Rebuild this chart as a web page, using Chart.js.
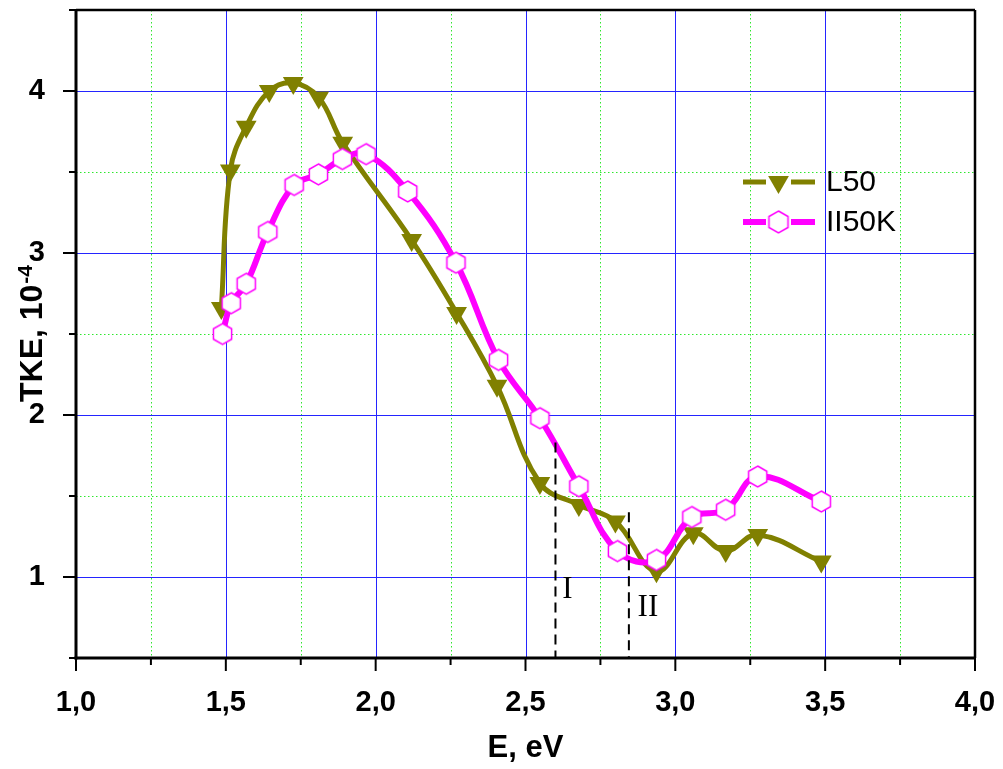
<!DOCTYPE html>
<html>
<head>
<meta charset="utf-8">
<script src="https://cdn.jsdelivr.net/npm/chart.js@4.4.1/dist/chart.umd.min.js"></script>
<style>
  html, body { margin: 0; padding: 0; background: #fff; }
</style>
</head>
<body>
<canvas id="myChart" width="1003" height="769"></canvas>
<script>
// L50
const eL50   = [1.485, 1.515, 1.568, 1.645, 1.725, 1.81, 1.89, 2.12, 2.27, 2.405, 2.548, 2.678, 2.80, 2.937, 3.06, 3.168, 3.275, 3.487];
const tkeL50 = [2.66, 3.51, 3.78, 4.00, 4.05, 3.96, 3.68, 3.08, 2.63, 2.18, 1.58, 1.445, 1.343, 1.035, 1.27, 1.16, 1.26, 1.095];
// II50K
const eII50K   = [1.489, 1.518, 1.568, 1.64, 1.728, 1.809, 1.889, 1.968, 2.107, 2.268, 2.41, 2.548, 2.678, 2.807, 2.937, 3.055, 3.168, 3.275, 3.487];
const tkeII50K = [2.50, 2.69, 2.81, 3.13, 3.42, 3.485, 3.58, 3.61, 3.38, 2.94, 2.34, 1.98, 1.56, 1.16, 1.105, 1.37, 1.415, 1.62, 1.466];

// axes
const xMajor = [1, 1.5, 2, 2.5, 3, 3.5, 4];
const xMinor = [1.25, 1.75, 2.25, 2.75, 3.25, 3.75];
const yMajor = [1, 2, 3, 4];
const yMinor = [0.5, 1.5, 2.5, 3.5, 4.5];
const xTickLabels = ['1,0', '1,5', '2,0', '2,5', '3,0', '3,5', '4,0'];
const yTickLabels = ['1', '2', '3', '4'];

// dashed markers I / II
const markE   = [2.6, 2.845];
const markTop = [1.83, 1.40];
const markLbl = ['I', 'II'];

const SANS = "'Liberation Sans', Arial, sans-serif";
const SERIF = "'Liberation Serif', 'Times New Roman', serif";
const OLIVE = '#808000';
const MAGENTA = '#ff00ff';

function hexagon(r, color) {
  const c = document.createElement('canvas');
  const s = Math.ceil(2 * r + 4);
  c.width = s; c.height = s;
  const g = c.getContext('2d');
  g.beginPath();
  for (let i = 0; i < 6; i++) {
    const a = -Math.PI / 2 + i * Math.PI / 3;
    const px = s / 2 + r * Math.cos(a), py = s / 2 + r * Math.sin(a);
    if (i) g.lineTo(px, py); else g.moveTo(px, py);
  }
  g.closePath();
  g.fillStyle = '#fff'; g.fill();
  g.lineWidth = 1.5; g.strokeStyle = color; g.stroke();
  return c;
}
const hexImg = hexagon(10.5, MAGENTA);
const hexLegend = hexagon(11, MAGENTA);

function seg(ctx, x1, y1, x2, y2) {
  ctx.beginPath(); ctx.moveTo(x1, y1); ctx.lineTo(x2, y2); ctx.stroke();
}

// no automatic label padding: the plot box is fixed
function noPad(s) {
  s.paddingTop = 0; s.paddingBottom = 0; s.paddingLeft = 0; s.paddingRight = 0;
}

const decor = {
  id: 'decor',
  beforeDatasetsDraw(chart) {
    const { ctx, chartArea: a, scales: { x, y } } = chart;
    ctx.save();
    // minor grid - green dotted
    ctx.strokeStyle = '#2ee82e'; ctx.lineWidth = 1; ctx.setLineDash([1.5, 2.5]);
    xMinor.forEach(v => { const p = Math.round(x.getPixelForValue(v)) + 0.5; seg(ctx, p, a.top, p, a.bottom); });
    yMinor.forEach(v => { const p = Math.round(y.getPixelForValue(v)) + 0.5; seg(ctx, a.left, p, a.right, p); });
    // major grid - blue
    ctx.setLineDash([]); ctx.strokeStyle = '#2424ff';
    xMajor.forEach(v => { const p = Math.round(x.getPixelForValue(v)) + 0.5; seg(ctx, p, a.top, p, a.bottom); });
    yMajor.forEach(v => { const p = Math.round(y.getPixelForValue(v)) + 0.5; seg(ctx, a.left, p, a.right, p); });
    ctx.restore();
  },
  afterDatasetsDraw(chart) {
    const { ctx, scales: { x, y } } = chart;
    ctx.save();
    // dashed lines I, II
    ctx.strokeStyle = '#000'; ctx.lineWidth = 2; ctx.setLineDash([10, 6]);
    markE.forEach((e, i) => {
      const p = x.getPixelForValue(e);
      seg(ctx, p, y.getPixelForValue(markTop[i]), p, y.getPixelForValue(0.5));
    });
    ctx.setLineDash([]);
    ctx.fillStyle = '#000';
    ctx.font = '31px ' + SERIF;
    ctx.textAlign = 'center'; ctx.textBaseline = 'middle';
    ctx.fillText(markLbl[0], x.getPixelForValue(markE[0]) + 12, y.getPixelForValue(0.92));
    ctx.fillText(markLbl[1], x.getPixelForValue(markE[1]) + 19, y.getPixelForValue(0.81));
    ctx.restore();
  },
  afterDraw(chart) {
    const { ctx, chartArea: a, scales: { x, y } } = chart;
    ctx.save();
    // frame
    ctx.strokeStyle = '#000';
    ctx.lineWidth = 2.5;
    seg(ctx, a.left, a.top, a.right, a.top);
    seg(ctx, a.right, a.top, a.right, a.bottom);
    ctx.lineWidth = 3;
    seg(ctx, a.left, a.top - 1, a.left, a.bottom + 1.5);
    seg(ctx, a.left - 1.5, a.bottom, a.right + 1, a.bottom);
    // ticks
    ctx.lineWidth = 2;
    xMajor.forEach(v => { const p = x.getPixelForValue(v); seg(ctx, p, a.bottom, p, a.bottom + 13); });
    xMinor.forEach(v => { const p = x.getPixelForValue(v); seg(ctx, p, a.bottom, p, a.bottom + 7); });
    yMajor.forEach(v => { const p = y.getPixelForValue(v); seg(ctx, a.left, p, a.left - 13, p); });
    yMinor.forEach(v => { const p = y.getPixelForValue(v); seg(ctx, a.left, p, a.left - 7, p); });

    // axis titles
    ctx.fillStyle = '#000';
    ctx.font = 'bold 31px ' + SANS;
    ctx.textAlign = 'center'; ctx.textBaseline = 'middle';
    ctx.fillText('E, eV', (a.left + a.right) / 2, 748);

    ctx.save();
    ctx.translate(42, (a.top + a.bottom) / 2);
    ctx.rotate(-Math.PI / 2);
    ctx.textBaseline = 'alphabetic'; ctx.textAlign = 'left';
    ctx.font = 'bold 32px ' + SANS;
    const main = 'TKE, 10';
    const w1 = ctx.measureText(main).width;
    ctx.font = 'bold 21px ' + SANS;
    const w2 = ctx.measureText('-4').width;
    const x0 = -(w1 + w2) / 2;
    ctx.font = 'bold 32px ' + SANS;
    ctx.fillText(main, x0, 0);
    ctx.font = 'bold 21px ' + SANS;
    ctx.fillText('-4', x0 + w1 + 1, -10);
    ctx.restore();

    // legend
    const rows = [
      { label: 'L50', color: OLIVE, lw: 5, y: 182 },
      { label: 'II50K', color: MAGENTA, lw: 6, y: 222 }
    ];
    rows.forEach((r, i) => {
      ctx.strokeStyle = r.color; ctx.lineWidth = r.lw;
      seg(ctx, 743, r.y, 766, r.y);
      seg(ctx, 791, r.y, 815, r.y);
      if (i === 0) {
        const R = 12;
        ctx.fillStyle = OLIVE;
        ctx.beginPath();
        ctx.moveTo(778.5, r.y + R);
        ctx.lineTo(778.5 - R * Math.sqrt(3) / 2, r.y - R / 2);
        ctx.lineTo(778.5 + R * Math.sqrt(3) / 2, r.y - R / 2);
        ctx.closePath(); ctx.fill();
      } else {
        ctx.drawImage(hexLegend, 778.5 - hexLegend.width / 2, r.y - hexLegend.height / 2);
      }
      ctx.fillStyle = '#000';
      ctx.font = '30px ' + SANS;
      ctx.textAlign = 'left'; ctx.textBaseline = 'middle';
      ctx.fillText(r.label, 826, r.y + 1);
    });
    ctx.restore();
  }
};

const ctx = document.getElementById('myChart');

new Chart(ctx, {
  type: 'line',
  data: {
    datasets: [{
      label: 'L50',
      data: eL50.map((e, i) => ({ x: e, y: tkeL50[i] })),
      borderColor: OLIVE,
      backgroundColor: OLIVE,
      borderWidth: 5,
      tension: 0.4,
      pointStyle: 'triangle',
      pointRotation: 180,
      pointRadius: 12,
      pointBorderWidth: 0,
      pointBackgroundColor: OLIVE,
      order: 2
    }, {
      label: 'II50K',
      data: eII50K.map((e, i) => ({ x: e, y: tkeII50K[i] })),
      borderColor: MAGENTA,
      backgroundColor: MAGENTA,
      borderWidth: 6,
      tension: 0.4,
      pointStyle: hexImg,
      pointRadius: 11,
      order: 1
    }]
  },
  options: {
    responsive: false,
    animation: false,
    layout: { autoPadding: false, padding: { left: 0, right: 28, top: 10, bottom: 0 } },
    plugins: { legend: { display: false }, tooltip: { enabled: false } },
    scales: {
      x: {
        type: 'linear',
        min: 1, max: 4,
        afterBuildTicks: s => { s.ticks = xMajor.map(v => ({ value: v })); },
        afterFit: s => { s.height = 111; noPad(s); },
        grid: { display: false },
        border: { display: false },
        ticks: {
          padding: 20,
          color: '#000',
          maxRotation: 0,
          autoSkip: false,
          font: { family: SANS, size: 29, weight: 'bold' },
          callback: (v, i) => xTickLabels[i]
        }
      },
      y: {
        type: 'linear',
        min: 0.5, max: 4.5,
        afterBuildTicks: s => { s.ticks = yMajor.map(v => ({ value: v })); },
        afterFit: s => { s.width = 76; noPad(s); },
        grid: { display: false },
        border: { display: false },
        ticks: {
          padding: 23,
          color: '#000',
          font: { family: SANS, size: 29, weight: 'bold' },
          callback: (v, i) => yTickLabels[i]
        }
      }
    }
  },
  plugins: [decor]
});
</script>
</body>
</html>
